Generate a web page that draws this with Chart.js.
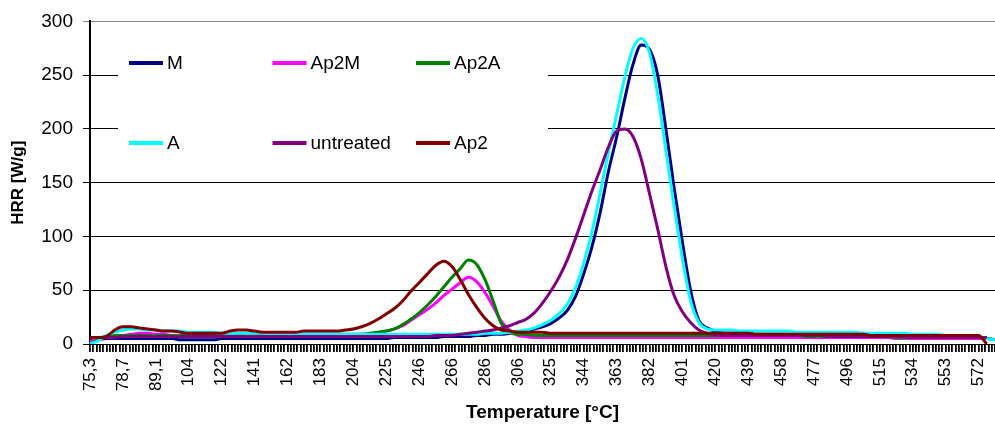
<!DOCTYPE html>
<html>
<head>
<meta charset="utf-8">
<script src="https://cdn.jsdelivr.net/npm/chart.js@4.4.0/dist/chart.umd.min.js"></script>
<style>
  body { margin: 0; background: #fff; }
  #wrap { width: 995px; height: 426px; }
</style>
</head>
<body>
<div id="wrap"><canvas id="hrr" width="995" height="426"></canvas></div>
<script>
// temperature labels printed on the axis (one every SUB sampled points)
var tickLabels = ['75,3','78,7','89,1','104','122','141','162','183','204','225','246','266','286','306',
                  '325','344','363','382','401','420','439','458','477','496','515','534','553','572'];
var SUB = 4;

// HRR [W/g], SUB points per label step
var M = [3,4,5,5,5,5,5,5,5,5,
 5,4,4,4,4,4,5,5,5,5,
 5,5,5,5,5,5,5,5,5,5,
 5,5,5,5,5,5,5,6,6,6,
 6,6,6,7,7,7,7,8,8,9,
 9,10,11,12,14,16,19,24,31,44,
 65,90,122,160,192,228,260,278,274,250,
 200,145,95,50,22,15,12,10,10,10,
 10,9,9,9,9,9,9,9,9,9,
 8,8,8,8,8,8,8,8,7,7,
 7,6,6,6,5,5,5,5,5,5,4];

var Ap2M = [2,5,7,8,8,9,10,10,9,9,
 8,8,8,8,8,8,8,8,8,8,
 8,8,8,8,8,8,8,8,8,8,
 8,8,8,9,9,10,12,14,17,22,
 27,32,38,45,51,57,62,58,48,35,
 21,13,8,7,6,6,6,6,6,6,
 6,6,6,6,6,6,6,6,6,6,
 6,6,6,6,6,6,6,6,6,6,
 6,6,6,6,6,6,6,6,6,6,
 6,6,6,6,6,6,6,6,5,5,
 5,5,5,5,5,5,5,5,5,5,null];

var Ap2A = [0,4,7,8,8,8,8,8,8,8,
 8,8,8,8,8,8,8,8,8,8,
 8,8,8,9,9,9,9,9,9,9,
 9,9,9,9,10,11,12,14,18,23,
 29,36,44,53,62,70,78,74,60,40,
 19,11,9,9,8,8,8,8,8,8,
 8,8,8,8,8,8,8,8,8,8,
 8,8,8,8,8,8,8,8,8,8,
 8,8,8,8,8,8,8,7,7,7,
 7,7,7,7,7,7,7,7,6,6,
 6,6,6,6,6,6,6,6,6,6,null];

var A = [0,3,8,11,13,14,14,13,13,12,
 12,12,11,11,11,11,10,10,10,10,
 10,10,9,9,9,9,9,9,9,9,
 9,9,9,9,9,9,9,9,9,9,
 9,9,9,9,9,9,9,9,10,10,
 10,11,12,13,15,18,22,28,37,52,
 75,104,140,178,213,248,275,284,271,232,
 180,128,80,40,20,14,13,13,13,12,
 12,12,12,12,12,12,11,11,11,11,
 11,11,11,11,10,10,10,10,10,10,
 9,9,9,9,8,8,8,8,7,5,4];

var untreated = [6,6,6,6,7,7,7,7,7,7,
 7,7,7,7,7,7,7,7,7,7,
 7,7,7,7,7,7,7,7,7,7,
 7,7,7,7,7,7,7,7,7,7,
 7,7,8,8,8,9,10,11,12,13,
 15,17,20,23,29,38,49,62,78,98,
 120,142,162,183,198,200,193,172,140,107,
 72,45,30,20,13,10,9,8,8,8,
 8,8,8,8,8,8,8,8,8,8,
 7,7,7,7,7,7,7,7,7,7,
 6,6,6,6,6,6,6,6,6,6,null];

var Ap2 = [6,6,7,13,16,16,15,14,13,12,
 12,11,10,10,10,10,10,12,13,13,
 12,11,11,11,11,11,12,12,12,12,
 12,13,14,16,19,23,28,33,40,49,
 57,65,73,77,72,60,46,34,24,17,
 13,12,11,11,11,11,10,10,10,10,
 10,10,10,10,10,10,10,10,10,10,
 10,10,10,10,10,10,10,10,10,10,
 10,9,9,9,9,9,9,9,9,9,
 9,9,9,9,9,8,8,8,8,8,
 8,8,8,8,8,8,8,8,8,0,null];

var yTicks = [0, 50, 100, 150, 200, 250, 300];

// category list: a label every SUB points, blanks between
var categories = [];
tickLabels.forEach(function (t) {
  categories.push(t);
  for (var k = 1; k < SUB; k++) categories.push('');
});
categories = categories.slice(0, M.length);

var FONT = "'Liberation Sans', Arial, sans-serif";

function series(label, data, color, order) {
  return {
    label: label, data: data, borderColor: color, backgroundColor: color,
    borderWidth: 3, pointRadius: 0, fill: false, order: order,
    xAxisID: 'x', yAxisID: 'y',
    cubicInterpolationMode: 'monotone'
  };
}

// legend drawn inside the plot on a white box, 2 rows x 3 columns
var boxLegend = {
  id: 'boxLegend',
  beforeDatasetsDraw: function (chart) {
    var c = chart.ctx;
    c.save();
    c.fillStyle = '#fff';
    c.fillRect(118, 24, 430, 146);
    c.font = '19px ' + FONT;
    c.textBaseline = 'middle';
    chart.data.datasets.forEach(function (ds, i) {
      var x = 129 + (i % 3) * 143.5;
      var y = 63 + Math.floor(i / 3) * 80;
      c.strokeStyle = ds.borderColor;
      c.lineWidth = 4;
      c.beginPath(); c.moveTo(x, y); c.lineTo(x + 34, y); c.stroke();
      c.fillStyle = '#000';
      c.fillText(ds.label, x + 38, y + 1);
    });
    c.restore();
  }
};

var ctx = document.getElementById('hrr');
var chart = new Chart(ctx, {
  type: 'line',
  data: {
    labels: categories,
    datasets: [
      series('M', M, '#000080', 6),
      series('Ap2M', Ap2M, '#FF00FF', 5),
      series('Ap2A', Ap2A, '#008000', 4),
      series('A', A, '#00FFFF', 3),
      series('untreated', untreated, '#800080', 2),
      series('Ap2', Ap2, '#800000', 1)
    ]
  },
  plugins: [boxLegend],
  options: {
    responsive: false,
    animation: false,
    layout: { padding: { top: 20, right: 0, bottom: 0, left: 0 } },
    plugins: { legend: { display: false }, tooltip: { enabled: false } },
    scales: {
      x: {
        type: 'category', position: 'bottom', weight: 1,
        ticks: { autoSkip: false, minRotation: 90, maxRotation: 90, padding: 6,
                 color: '#000', font: { size: 17, family: FONT } },
        grid: { display: false, drawTicks: false },
        border: { display: false },
        title: { display: true, text: 'Temperature [°C]', color: '#000',
                 font: { size: 19, weight: 'bold', family: FONT }, padding: { top: 0, bottom: 2 } },
        afterFit: function (s) { s.height = 74; s.paddingLeft = 0; s.paddingRight = 0; }
      },
      xt: {
        type: 'linear', axis: 'x', position: 'bottom', weight: 0,
        min: 0, max: categories.length - 1,
        ticks: { display: false, stepSize: SUB / 10 },
        grid: { drawOnChartArea: false, tickLength: 8, color: '#000', lineWidth: 1.8 },
        border: { display: true, color: '#000', width: 1 },
        afterFit: function (s) { s.height = 8; s.paddingLeft = 0; s.paddingRight = 0; }
      },
      y: {
        min: yTicks[0], max: yTicks[yTicks.length - 1],
        afterBuildTicks: function (s) { s.ticks = yTicks.map(function (v) { return { value: v }; }); },
        ticks: { padding: 10, color: '#000', font: { size: 19, family: FONT } },
        grid: {
          color: function (c) { return c.tick && c.tick.value === 300 ? '#888' : '#000'; },
          lineWidth: 1, tickLength: 7
        },
        border: { display: true, color: '#000', width: 2 },
        title: { display: true, text: 'HRR [W/g]', color: '#000',
                 font: { size: 17, weight: 'bold', family: FONT }, padding: { top: 8, bottom: 0 } },
        afterFit: function (s) { s.width = 90; }
      }
    }
  }
});
</script>
</body>
</html>
